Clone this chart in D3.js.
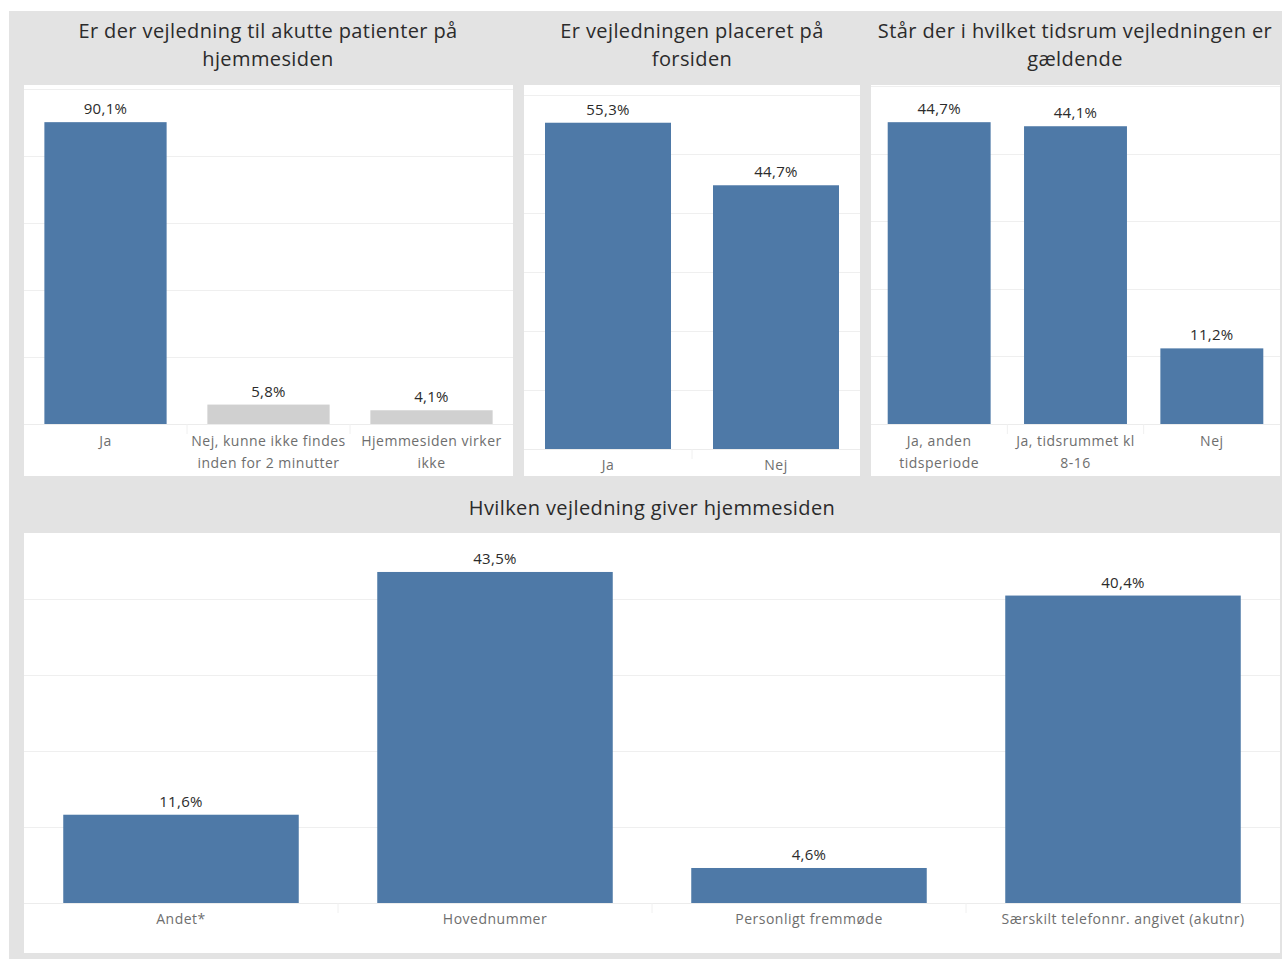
<!DOCTYPE html>
<html><head><meta charset="utf-8">
<script src="https://cdn.jsdelivr.net/npm/d3@7"></script>
<style>
body{margin:0;background:#fff;}
svg{display:block;font-family:"Open Sans","Noto Sans",sans-serif;}
</style></head>
<body><svg id="c" width="1282" height="959"></svg>
<script>
// ---- data ----
const cats1 = ["Ja", "Nej, kunne ikke findes|inden for 2 minutter", "Hjemmesiden virker|ikke"];
const vals1 = [90.1, 5.8, 4.1];
const title1 = ["Er der vejledning til akutte patienter på", "hjemmesiden"];

const cats2 = ["Ja", "Nej"];
const vals2 = [55.3, 44.7];
const title2 = ["Er vejledningen placeret på", "forsiden"];

const cats3 = ["Ja, anden|tidsperiode", "Ja, tidsrummet kl|8-16", "Nej"];
const vals3 = [44.7, 44.1, 11.2];
const title3 = ["Står der i hvilket tidsrum vejledningen er", "gældende"];

const cats4 = ["Andet*", "Hovednummer", "Personligt fremmøde", "Særskilt telefonnr. angivet (akutnr)"];
const vals4 = [11.6, 43.5, 4.6, 40.4];
const title4 = ["Hvilken vejledning giver hjemmesiden"];

const fmt = v => d3.format(".1f")(v).replace(".", ",") + "%";

const svg = d3.select("#c");
const BLUE = "#4e79a7", GREYBAR = "#d0d0d0";

// background
svg.append("rect").attr("x", 9).attr("y", 11).attr("width", 1282 - 9).attr("height", 959 - 11).attr("fill", "#e3e3e3");

function panel(o) {
  const g = svg.append("g");
  // title
  o.title.forEach((t, i) => {
    g.append("text").attr("x", o.tx).attr("y", o.ty + i * 28).attr("text-anchor", "middle")
      .attr("font-size", 20).attr("letter-spacing", 0.4).attr("fill", "#2b2b2b").text(t);
  });
  // white panel
  g.append("rect").attr("x", o.x0).attr("y", o.py0).attr("width", o.x1 - o.x0).attr("height", o.py1 - o.py0).attr("fill", "#fff");
  const x = d3.scaleBand().domain(o.cats).range([o.x0, o.x1]).paddingInner(o.pad).paddingOuter(o.pad / 2);
  const y = d3.scaleLinear().domain([0, o.max]).range([o.base, o.top]);
  // grid
  g.selectAll(".grid").data(o.ticks).join("line")
    .attr("x1", o.x0).attr("x2", o.x1).attr("y1", d => Math.round(y(d)) + 0.5).attr("y2", d => Math.round(y(d)) + 0.5)
    .attr("stroke", "#efefef").attr("stroke-width", 1);
  // baseline + separators in label area
  g.append("line").attr("x1", o.x0).attr("x2", o.x1).attr("y1", Math.round(o.base) + 0.5).attr("y2", Math.round(o.base) + 0.5)
    .attr("stroke", "#ececec");
  const step = x.step();
  g.selectAll(".sep").data(o.cats.slice(1)).join("line")
    .attr("x1", d => x(d) - step * o.pad / 2).attr("x2", d => x(d) - step * o.pad / 2)
    .attr("y1", o.base).attr("y2", o.base + 10).attr("stroke", "#f0f0f0");
  // bars
  g.selectAll(".bar").data(o.vals).join("rect")
    .attr("x", (d, i) => x(o.cats[i])).attr("width", x.bandwidth())
    .attr("y", d => y(d)).attr("height", d => y(0) - y(d))
    .attr("fill", (d, i) => o.colors ? o.colors[i] : BLUE);
  // value labels
  g.selectAll(".val").data(o.vals).join("text")
    .attr("x", (d, i) => x(o.cats[i]) + x.bandwidth() / 2).attr("y", d => y(d) - 8)
    .attr("text-anchor", "middle").attr("font-size", 15).attr("letter-spacing", 0.3).attr("fill", "#2b2b2b").text(d => fmt(d));
  // category labels
  o.cats.forEach(c => {
    c.split("|").forEach((line, i) => {
      g.append("text").attr("x", x(c) + x.bandwidth() / 2).attr("y", o.base + o.ly + i * 22)
        .attr("text-anchor", "middle").attr("font-size", 14).attr("letter-spacing", 0.5).attr("fill", "#6e6e6e").text(line);
    });
  });
}

panel({cats: cats1, vals: vals1, title: title1, tx: 268, ty: 38, x0: 24, x1: 513, py0: 85, py1: 476,
  base: 424, top: 89, max: 100, ticks: [20, 40, 60, 80, 100], pad: 0.25, ly: 22,
  colors: [BLUE, GREYBAR, GREYBAR]});
panel({cats: cats2, vals: vals2, title: title2, tx: 692, ty: 38, x0: 524, x1: 860, py0: 85, py1: 476,
  base: 449, top: 95, max: 60, ticks: [10, 20, 30, 40, 50, 60], pad: 0.25, ly: 21});
panel({cats: cats3, vals: vals3, title: title3, tx: 1075, ty: 38, x0: 871, x1: 1280, py0: 85, py1: 476,
  base: 424, top: 86.4, max: 50, ticks: [10, 20, 30, 40, 50], pad: 0.245, ly: 22});
panel({cats: cats4, vals: vals4, title: title4, tx: 652, ty: 515, x0: 24, x1: 1280, py0: 533, py1: 953,
  base: 903, top: 522.5, max: 50, ticks: [10, 20, 30, 40], pad: 0.25, ly: 21});
</script></body></html>
